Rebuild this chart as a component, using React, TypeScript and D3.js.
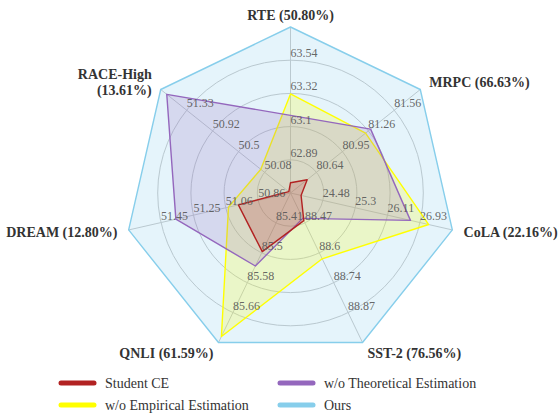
import React from "react";
import * as d3 from "d3";

const axisNames = ["RTE (50.80%)", "MRPC (66.63%)", "CoLA (22.16%)", "SST-2 (76.56%)", "QNLI (61.59%)", "DREAM (12.80%)", "RACE-High\n(13.61%)"];
const tickLabels = [
  ["62.89", "63.1", "63.32", "63.54"],
  ["80.64", "80.95", "81.26", "81.56"],
  ["24.48", "25.3", "26.11", "26.93"],
  ["88.47", "88.6", "88.74", "88.87"],
  ["85.41", "85.5", "85.58", "85.66"],
  ["50.86", "51.06", "51.25", "51.45"],
  ["50.08", "50.5", "50.92", "51.33"],
];
const axisMin = [62.673, 80.333, 23.663, 88.337, 85.327, 50.663, 49.663];
const axisMax = [63.757, 81.867, 27.747, 89.003, 85.743, 51.647, 51.747];

const studentCE = [62.74, 80.53, 23.93, 88.46, 85.49, 50.98, 49.69];
const woEmpirical = [63.32, 81.22, 27.15, 88.63, 85.726, 51.04, 50.14];
const woTheoretical = [63.18, 81.28, 26.69, 88.45, 85.53, 51.36, 51.65];
const ours = [63.757, 81.867, 27.747, 89.003, 85.743, 51.647, 51.747];

const seriesNames = ["Student CE", "w/o Empirical Estimation", "w/o Theoretical Estimation", "Ours"];
const seriesColors = ["#b22222", "#ffff00", "#9467bd", "#87ceeb"];

export default function App() {
  const W = 558, H = 414;
  const cx = 290.5, cy = 193, R = 166;
  const n = axisNames.length;
  const angle = (i: number) => -Math.PI / 2 + (i * 2 * Math.PI) / n;
  const scales = axisMin.map((mn, i) => d3.scaleLinear().domain([mn, axisMax[i]]).range([0, R]));
  const pt = (i: number, r: number): [number, number] => [cx + r * Math.cos(angle(i)), cy + r * Math.sin(angle(i))];
  const line = d3.line<[number, number]>().curve(d3.curveLinearClosed);
  const polyPath = (vals: number[]) => line(vals.map((v, i) => pt(i, scales[i](v)))) || "";

  const series = [ours, woEmpirical, woTheoretical, studentCE];
  const seriesCol = ["#87ceeb", "#ffff00", "#9467bd", "#b22222"];
  const rings = [1, 2, 3, 4].map((k) => (k * R) / 5);
  const ff = { fontFamily: '"Liberation Serif"' };

  const legendItems = [
    { name: seriesNames[0], color: seriesColors[0], x: 61, y: 383 },
    { name: seriesNames[1], color: seriesColors[1], x: 61, y: 405 },
    { name: seriesNames[2], color: seriesColors[2], x: 280, y: 383 },
    { name: seriesNames[3], color: seriesColors[3], x: 280, y: 405 },
  ];

  return (
    <svg width={W} height={H} style={{ position: "absolute", left: 0, top: 0, background: "#fff" }}>
      {rings.map((r, k) => (
        <circle key={k} cx={cx} cy={cy} r={r} fill="none" stroke="#c8c8c8" strokeWidth={1} />
      ))}
      {axisNames.map((_, i) => {
        const [x, y] = pt(i, R);
        return <line key={i} x1={cx} y1={cy} x2={x} y2={y} stroke="#c8c8c8" strokeWidth={1} />;
      })}
      {series.map((vals, s) => (
        <path key={s} d={polyPath(vals)} fill={seriesCol[s]} fillOpacity={s === 0 ? 0.22 : 0.2} stroke={seriesCol[s]} strokeWidth={1.4} strokeLinejoin="round" />
      ))}
      {tickLabels.map((labels, i) =>
        labels.map((lab, k) => {
          const [x, y] = pt(i, rings[k]);
          return (
            <text key={`${i}-${k}`} x={x} y={y - 3} fontSize={12} fill="#555" fillOpacity={0.9} style={ff}>
              {lab}
            </text>
          );
        })
      )}
      {axisNames.map((name, i) => {
        const [x, y] = pt(i, 177.5);
        const c = Math.cos(angle(i));
        const anchor = c > 0.1 ? "start" : c < -0.1 ? "end" : "middle";
        const lines = name.split("\n");
        return (
          <text key={i} x={x} y={y} fontSize={14} fontWeight="bold" fill="#333" textAnchor={anchor} style={ff}>
            {lines.map((l, j) => (
              <tspan key={j} x={x} dy={j === 0 ? `${0.35 - (lines.length - 1) * 0.58}em` : "1.16em"}>
                {l}
              </tspan>
            ))}
          </text>
        );
      })}
      {legendItems.map((it, i) => (
        <g key={i}>
          <line x1={it.x} y1={it.y} x2={it.x + 33} y2={it.y} stroke={it.color} strokeWidth={5} strokeLinecap="round" />
          <text x={it.x + 44} y={it.y + 5} fontSize={14} fill="#333" style={ff}>
            {it.name}
          </text>
        </g>
      ))}
    </svg>
  );
}
